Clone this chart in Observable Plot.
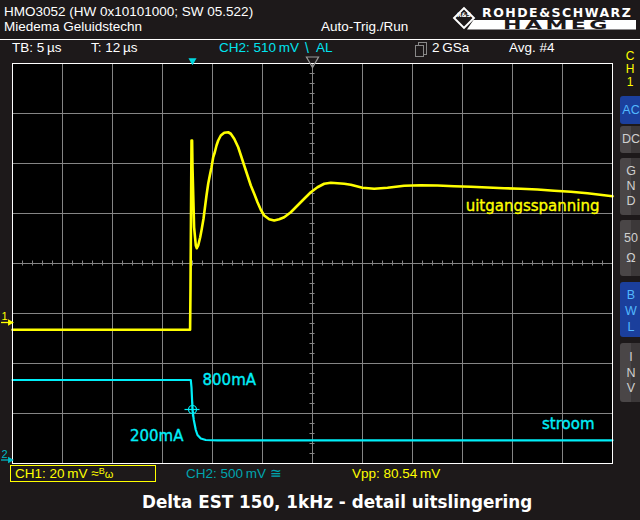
<!DOCTYPE html>
<html><head><meta charset="utf-8">
<script src="https://cdn.jsdelivr.net/npm/d3@7"></script>
<script src="https://cdn.jsdelivr.net/npm/@observablehq/plot@0.6"></script>
<style>
html,body{margin:0;padding:0;background:#1d191a;}
#wrap{position:relative;width:640px;height:520px;overflow:hidden;background:#1d191a;font-family:"Liberation Sans",Arial,sans-serif;}
#wrap svg{position:absolute;left:0;top:0;}
.t{position:absolute;white-space:nowrap;font-size:13.5px;line-height:16px;color:#fff;}
.btn{position:absolute;left:620px;width:22px;border-radius:3px;color:#cfcfcf;font-size:12.5px;text-align:center;box-sizing:border-box;background:linear-gradient(to right,#4a4647 0,#4a4647 48%,#3c3839 48%,#3c3839 100%);}
.btn.blue{background:#1b3f9c;color:#52b8ff;}
.ch1{color:#ffff00;}
.ch2{color:#00e4f0;}
.side{position:absolute;left:620px;width:20px;text-align:center;font-size:12px;line-height:13px;color:#ffff00;}
</style></head>
<body>
<div id="wrap">
  <div id="chart"></div>
  <div class="t" style="left:4px;top:4px">HMO3052 (HW 0x10101000; SW 05.522)</div>
  <div class="t" style="left:4px;top:19px">Miedema Geluidstechn</div>
  <div class="t" style="left:321px;top:19px">Auto-Trig./Run</div>
  <div style="position:absolute;left:0;top:39px;width:640px;height:1px;background:#fff"></div>
  <div style="position:absolute;left:456px;top:9.5px;width:12px;height:12px;border:2px solid #fff;transform:rotate(45deg);"></div>
  <div style="position:absolute;left:454px;top:12px;width:20px;font:bold 6px/6px 'DejaVu Sans';color:#fff;text-align:center">R&amp;S</div>
  <div style="position:absolute;left:482px;top:7.5px;font:bold 12.5px/10px 'DejaVu Sans',sans-serif;letter-spacing:1.5px;color:#fff;white-space:nowrap">ROHDE&amp;SCHWARZ</div>
  <div style="position:absolute;left:467px;top:19.5px;width:169px;height:10px;background:#fff;clip-path:polygon(4% 0,100% 0,100% 100%,0 100%);"></div>
  <div style="position:absolute;left:503px;top:20px;font:900 13px/10px 'DejaVu Sans',sans-serif;letter-spacing:2px;color:#1d191a;transform:scaleX(1.7);transform-origin:left center;white-space:nowrap">HAMEG</div>

  <div class="t" style="left:12px;top:40px">TB: 5&#8201;µs</div>
  <div class="t" style="left:91px;top:40px">T: 12&#8201;µs</div>
  <div class="t ch2" style="left:219px;top:40px">CH2: 510&#8201;mV</div>
  <div class="t ch2" style="left:305px;top:40px;font-size:14px">&#92;</div>
  <div class="t ch2" style="left:316px;top:40px">AL</div>
  <div style="position:absolute;left:418px;top:42px;width:7px;height:11px;border:1.5px solid #888"></div>
  <div style="position:absolute;left:415px;top:45px;width:7px;height:10px;border:1.5px solid #888;background:#1d191a"></div>
  <div class="t" style="left:432px;top:40px">2&#8201;GSa</div>
  <div class="t" style="left:509px;top:40px">Avg. #4</div>

  <div class="side" style="top:49.5px">C</div>
  <div class="side" style="top:62.5px">H</div>
  <div class="side" style="top:75.5px">1</div>
  <div class="btn blue" style="top:96px;height:28px;line-height:28px">AC</div>
  <div class="btn" style="top:126px;height:27px;line-height:27px">DC</div>
  <div class="btn" style="top:158px;height:57px;padding-top:6px;line-height:15px">G<br>N<br>D</div>
  <div class="btn" style="top:220px;height:56px;padding-top:8px;line-height:20px">50<br>Ω</div>
  <div class="btn blue" style="top:282px;height:55px;padding-top:5px;line-height:16px">B<br>W<br>L</div>
  <div class="btn" style="top:343px;height:59px;padding-top:7px;line-height:15.5px">I<br>N<br>V</div>

  <div style="position:absolute;left:10px;top:465px;width:144px;height:15px;border:1.5px solid #ffff00"></div>
  <div class="t ch1" style="left:15px;top:466px">CH1: 20&#8201;mV ≈<span style="font-size:9px;position:relative;top:-4px">B</span><span style="font-size:11px">ω</span></div>
  <div class="t" style="left:186px;top:466px;color:#00a4ae">CH2: 500&#8201;mV ≅</div>
  <div class="t ch1" style="left:352px;top:466px">Vpp: 80.54&#8201;mV</div>
  <div style="position:absolute;left:142px;top:492px;font:bold 16.8px/20px 'DejaVu Sans',sans-serif;color:#fff;white-space:nowrap">Delta EST 150, 1kHz - detail uitslingering</div>
</div>
<script>
// Channel settings (oscilloscope)
const CH1_MV_PER_DIV = 20;     // CH1: 20 mV/div
const CH2_MA_PER_DIV = 500;    // CH2: 500 mV/div, 1 mV/mA current probe
const CH1_OFFSET_DIV = -1.18;  // CH1 ground marker position
const CH2_OFFSET_DIV = -3.93;  // CH2 ground marker position
const TB_US = 5;               // time base, µs/div
const TRIG_OFFSET_US = 12;     // T: 12 µs (centre relative to trigger)

// CH1: output voltage (uitgangsspanning), time in µs relative to trigger, mV
const ch1Time = [-18, -0.24, -0.2, -0.1, -0.04, 0, 0.16, 0.33, 0.43, 0.57, 0.77, 0.93, 1.10, 1.27, 1.40, 1.57, 1.73, 1.90, 2.07, 2.23, 2.40, 2.57, 2.83, 3.17, 3.57, 3.83, 4.17, 4.57, 4.90, 5.17, 5.50, 5.83, 6.17, 6.50, 6.83, 7.17, 7.67, 8.17, 8.67, 9.17, 9.83, 10.5, 11.17, 11.83, 12.5, 13.17, 13.83, 14.5, 15.17, 15.83, 17.0, 18.17, 19.5, 21.17, 22.83, 24.5, 26.17, 27.83, 29.5, 31.17, 32.83, 34.5, 36.17, 37.83, 39.5, 42];
const ch1mV = [-2.9, -2.9, 13.6, 72.8, 72.8, 62.1, 38.1, 30.8, 29.7, 30.8, 34.1, 37.5, 41.5, 46.8, 50.8, 55.5, 58.8, 62.1, 66.1, 68.1, 70.8, 72.8, 74.8, 75.9, 76.1, 75.5, 73.5, 70.1, 66.1, 62.8, 58.8, 54.8, 51.5, 48.1, 45.1, 42.8, 41.3, 40.8, 41.3, 42.1, 44.1, 46.8, 49.5, 52.1, 54.1, 55.5, 55.9, 55.7, 55.5, 55.1, 53.9, 53.5, 53.9, 54.7, 54.9, 54.8, 54.5, 54.3, 54.0, 53.7, 53.5, 53.2, 52.7, 52.3, 51.7, 50.5];

// CH2: load current (stroom), time in µs, mA
const ch2Time = [-18, -0.17, -0.1, 0, 0.13, 0.33, 0.5, 0.83, 1.33, 2.5, 42];
const ch2mA = [800, 800, 725, 505, 400, 300, 250, 215, 200, 197, 197];

// Trigger point (crosshair) and annotations
const trigTime = [0];
const trigmA = [505];
const labelText = ["800mA", "200mA", "stroom", "uitgangsspanning"];

const d1 = ch1Time.map((t, i) => ({t, y: CH1_OFFSET_DIV + ch1mV[i] / CH1_MV_PER_DIV}));
const d2 = ch2Time.map((t, i) => ({t, y: CH2_OFFSET_DIV + ch2mA[i] / CH2_MA_PER_DIV}));
const lvl = mA => CH2_OFFSET_DIV + mA / CH2_MA_PER_DIV;

const x0 = TRIG_OFFSET_US - 6 * TB_US, x1 = TRIG_OFFSET_US + 6 * TB_US;
const gridX = d3.range(0, 13).map(i => x0 + i * TB_US);
const gridY = d3.range(-4, 5);
const minorX = d3.range(0, 61).map(i => x0 + i * TB_US / 5);
const minorY = d3.range(0, 41).map(i => -4 + i * 0.2);
const YEL = "#ffff00", CY = "#00eef8", GR = "#858585";
const last1 = d1[d1.length - 1], last2 = d2[d2.length - 1];
const trig = {t: trigTime[0], y: lvl(trigmA[0])};
const lab = {fontSize: 15, fontFamily: "DejaVu Sans", fontWeight: 500, strokeWidth: 0.35};

const chart = Plot.plot({
  width: 640, height: 520,
  marginTop: 63, marginBottom: 57, marginLeft: 12, marginRight: 28,
  x: {domain: [x0, x1], axis: null},
  y: {domain: [-4, 4], axis: null},
  style: {background: "transparent", overflow: "visible"},
  marks: [
    Plot.frame({fill: "black"}),
    Plot.ruleX(gridX, {stroke: GR}),
    Plot.ruleY(gridY, {stroke: GR}),
    Plot.ruleX(minorX, {y1: -0.05, y2: 0.05, stroke: GR}),
    Plot.ruleY(minorY, {x1: TRIG_OFFSET_US - 0.25, x2: TRIG_OFFSET_US + 0.25, stroke: GR}),
    Plot.line(d2, {x: "t", y: "y", stroke: CY, strokeWidth: 2.2}),
    Plot.line(d1, {x: "t", y: "y", stroke: YEL, strokeWidth: 2.6}),
    Plot.dot([trig], {x: "t", y: "y", r: 4, stroke: CY, strokeWidth: 1.2}),
    Plot.ruleX([trig], {x: "t", y1: trig.y - 0.15, y2: trig.y + 0.15, stroke: CY, strokeWidth: 1.2}),
    Plot.ruleY([trig], {y: "y", x1: trig.t - 0.75, x2: trig.t + 0.75, stroke: CY, strokeWidth: 1.2}),
    Plot.text([{t: 1.0, y: lvl(800)}], {x: "t", y: "y", text: () => labelText[0], textAnchor: "start", fill: CY, stroke: CY, ...lab}),
    Plot.text([{t: -0.9, y: lvl(200)}], {x: "t", y: "y", text: () => labelText[1], textAnchor: "end", dy: -4, fill: CY, stroke: CY, ...lab}),
    Plot.text([last2], {x: "t", y: "y", text: () => labelText[2], textAnchor: "end", dx: -18, dy: -16, fill: CY, stroke: CY, ...lab}),
    Plot.text([last1], {x: "t", y: "y", text: () => labelText[3], textAnchor: "end", dx: -13, dy: 10, fill: YEL, stroke: YEL, ...lab}),
    Plot.frame({stroke: "#ffffff", strokeWidth: 1}),
    // top markers: trigger position and horizontal position
    Plot.dot([{t: 0, y: 4}], {x: "t", y: "y", symbol: "triangle", rotate: 180, r: 3, dy: -3, fill: "#00d8e0"}),
    Plot.dot([{t: TRIG_OFFSET_US, y: 4}], {x: "t", y: "y", symbol: "triangle", rotate: 180, r: 4.5, dy: -3, stroke: "#9a9a9a", strokeWidth: 1.2}),
    // channel ground markers
    Plot.ruleY([CH1_OFFSET_DIV], {x1: x0 - 1.1, x2: x0 - 0.2, stroke: YEL, strokeWidth: 1.3}),
    Plot.dot([{t: x0 - 0.25, y: CH1_OFFSET_DIV}], {x: "t", y: "y", symbol: "triangle", rotate: 90, r: 2.5, fill: YEL}),
    Plot.text([{t: x0, y: CH1_OFFSET_DIV}], {x: "t", y: "y", text: () => "1", dx: -8, dy: -6, fill: YEL, fontSize: 11, fontFamily: "Liberation Sans"}),
    Plot.ruleY([CH2_OFFSET_DIV], {x1: x0 - 1.1, x2: x0 - 0.2, stroke: "#00b8c4", strokeWidth: 1.3}),
    Plot.dot([{t: x0 - 0.25, y: CH2_OFFSET_DIV}], {x: "t", y: "y", symbol: "triangle", rotate: 90, r: 2.5, fill: "#00b8c4"}),
    Plot.text([{t: x0, y: CH2_OFFSET_DIV}], {x: "t", y: "y", text: () => "2", dx: -8, dy: -6, fill: "#00b8c4", fontSize: 11, fontFamily: "Liberation Sans"})
  ]
});
document.getElementById("chart").appendChild(chart);
</script>
</body></html>
